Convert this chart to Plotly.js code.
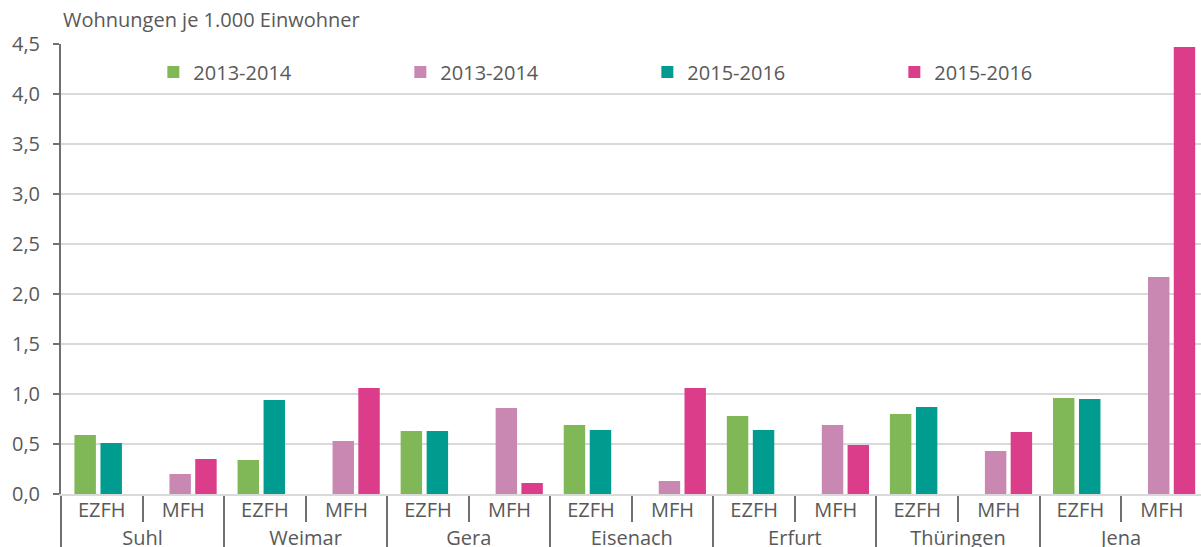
<!DOCTYPE html>
<html><head><meta charset="utf-8">
<script src="https://cdn.plot.ly/plotly-3.0.1.min.js"></script>
<style>
html,body{margin:0;padding:0;background:#fff}
g.xtick2{transform:translate(0px,-4px)}
</style>
</head><body><div id="chart" style="width:1201px;height:547px"></div>
<script>
const cities = ['Suhl','Weimar','Gera','Eisenach','Erfurt','Thüringen','Jena'];
const types = ['EZFH','MFH'];
const ezfh2013_2014 = [0.59,0.34,0.63,0.69,0.78,0.80,0.96];
const mfh2013_2014 = [0.20,0.53,0.86,0.13,0.69,0.43,2.17];
const ezfh2015_2016 = [0.51,0.94,0.63,0.64,0.64,0.87,0.95];
const mfh2015_2016 = [0.35,1.06,0.11,1.06,0.49,0.62,4.47];
const seriesNames = ['2013-2014','2013-2014','2015-2016','2015-2016'];
const seriesColors = ['#80B757','#C888B2','#009C8F','#DB3D8B'];

const xFor = t => [cities.slice(), cities.map(() => t)];
const barW = 0.263;
const defs = [
  {y: ezfh2013_2014, t: types[0], off: -0.335},
  {y: mfh2013_2014, t: types[1], off: -0.17},
  {y: ezfh2015_2016, t: types[0], off: -0.016},
  {y: mfh2015_2016, t: types[1], off: 0.146}
];
const data = defs.map((d, i) => ({
  type: 'bar',
  name: seriesNames[i],
  x: xFor(d.t),
  y: d.y,
  offset: d.off,
  width: barW,
  marker: {color: seriesColors[i], line: {width: 0}},
  hoverinfo: 'y'
}));

const layout = {
  width: 1201, height: 547,
  margin: {l: 61, r: 0, t: 44, b: 53, pad: 0},
  separators: ',.',
  font: {family: '"Open Sans", sans-serif', color: '#595959'},
  paper_bgcolor: '#fff', plot_bgcolor: '#fff',
  barmode: 'overlay',
  showlegend: true,
  legend: {
    orientation: 'h', x: 0.081, y: 0.938, xanchor: 'left', yanchor: 'middle',
    font: {size: 20, color: '#595959'},
    entrywidth: 202, entrywidthmode: 'pixels',
    bgcolor: 'rgba(0,0,0,0)', traceorder: 'normal'
  },
  xaxis: {
    type: 'multicategory', range: [-0.5, 13.48],
    ticks: 'outside', tickson: 'boundaries', ticklen: 26,
    tickcolor: '#707070', tickwidth: 2, ticklabelstandoff: -3,
    showdividers: true, dividercolor: '#707070', dividerwidth: 2,
    showline: true, linecolor: '#D9D9D9', linewidth: 2,
    showgrid: false, zeroline: false,
    tickfont: {size: 20, color: '#595959'}
  },
  yaxis: {
    range: [0, 4.5], dtick: 0.5, tick0: 0, tickformat: '.1f',
    showgrid: true, gridcolor: '#D9D9D9', gridwidth: 2,
    showline: true, linecolor: '#707070', linewidth: 2,
    ticks: 'outside', ticklen: 6, tickcolor: '#707070', tickwidth: 2,
    ticklabelstandoff: 9,
    tickfont: {size: 20, color: '#595959'}, zeroline: false
  },
  annotations: [{
    text: 'Wohnungen je 1.000 Einwohner', xref: 'paper', yref: 'paper',
    x: 0, y: 1.019, xanchor: 'left', yanchor: 'bottom', showarrow: false,
    font: {size: 20, color: '#595959'}
  }]
};
Plotly.newPlot('chart', data, layout, {displayModeBar: false, staticPlot: true});
</script></body></html>
